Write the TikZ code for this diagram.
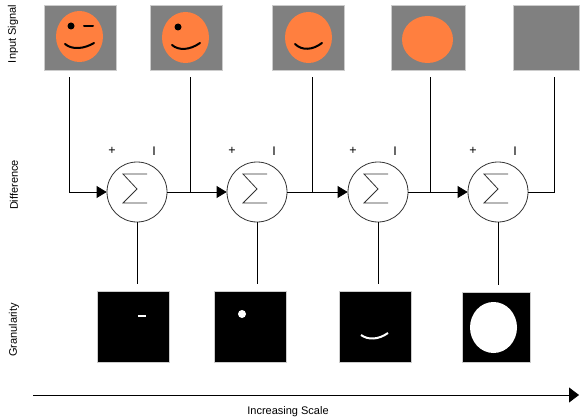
\documentclass[tikz,border=0pt]{standalone}
\usepackage{fontspec}
\setmainfont{Liberation Sans}
\usepackage{xcolor}
\usetikzlibrary{positioning, arrows.meta}

\definecolor{framegray}{RGB}{128,128,128}
\definecolor{skin}{RGB}{255,127,63}

\begin{document}
\begin{tikzpicture}[x=1pt, y=-1pt,
    inbox/.style={draw=gray!40, fill=framegray, minimum width=72pt, minimum height=65pt, inner sep=0pt},
    granbox/.style={draw=gray!40, fill=black, minimum width=72pt, minimum height=71pt, inner sep=0pt},
    sumnode/.style={circle, draw=black!80, line width=0.8pt, minimum size=60pt, inner sep=0pt},
    sigma/.style={draw=black!80, line width=0.8pt, line join=miter},
    sign/.style={font=\fontsize{12.5}{14}\selectfont, inner sep=0pt},
    rowlabel/.style={rotate=90, font=\fontsize{11}{13}\selectfont},
    wire/.style={line width=0.8pt},
    arr/.style={wire, -{Triangle[length=10pt, width=12pt]}},
    ink/.style={line width=2pt, line cap=round}
  ]
  \useasboundingbox (0,0) rectangle (581,420);

  % Row labels
  \node[rowlabel] (lblin) at (13,34) {Input Signal};
  \node[rowlabel] (lbldiff) at (14,185) {Difference};
  \node[rowlabel] (lblgran) at (14,330) {Granularity};

  % Input frames
  \node[inbox] (in1) at (80,37.5) {};
  \node[inbox] (in2) at (186,37.5) {};
  \node[inbox] (in3) at (308,37.5) {};
  \node[inbox, minimum width=74pt] (in4) at (428,37.5) {};
  \node[inbox, minimum width=66pt] (in5) at (546,37.5) {};

  % Faces
  \fill[skin] (79.5,36.5) ellipse [x radius=23.5, y radius=25.5];
  \fill (71,26) circle [radius=3.5];
  \draw[ink] (84,26) -- (93,26);
  \draw[ink] (65,44) .. controls (72,50) and (84,49) .. (94,43);

  \fill[skin] (185.5,37.5) ellipse [x radius=23.5, y radius=25.5];
  \fill (178,27) circle [radius=3.5];
  \draw[ink] (172,45) .. controls (179,51) and (190,50) .. (200,43);

  \fill[skin] (308.5,37.5) ellipse [x radius=23.5, y radius=25.5];
  \draw[ink] (295,44) .. controls (302,51) and (313,50) .. (322,43);

  \fill[skin] (427.5,39.5) ellipse [x radius=25.5, y radius=23.5];

  % Summing junctions
  \node[sumnode] (sum1) at (137,192) {};
  \node[sumnode] (sum2) at (257,192) {};
  \node[sumnode] (sum3) at (378,192) {};
  \node[sumnode] (sum4) at (498,192) {};

  \foreach \i in {1,...,4} {
    \draw[sigma] ([shift={(10,-18)}]sum\i.center) -- ([shift={(-14,-18)}]sum\i.center)
      -- ([shift={(0,-3)}]sum\i.center) -- ([shift={(-14,11)}]sum\i.center)
      -- ([shift={(10,11)}]sum\i.center);
    \node[sign] at ([shift={(-25,-41)}]sum\i.center) {+};
    \node[sign] at ([shift={(17,-41)}]sum\i.center) {I};
  }

  % Granularity frames
  \node[granbox] (g1) at (133,326.5) {};
  \node[granbox] (g2) at (250,326.5) {};
  \node[granbox] (g3) at (375,326.5) {};
  \node[granbox, minimum width=68pt, minimum height=70pt] (g4) at (496,327) {};

  \draw[white, line width=2pt] (138,316) -- (146,316);
  \fill[white] (242,314) circle [radius=4];
  \draw[white, line width=2pt] (361,335) .. controls (368,340) and (378,340) .. (388,333);
  \fill[white] (493.5,327.5) ellipse [x radius=23.5, y radius=25.5];

  % Junction points
  \coordinate (j1) at (69,192);
  \coordinate (j2) at (190,192);
  \coordinate (j3) at (312,192);
  \coordinate (j4) at (430,192);
  \coordinate (j5) at (554,192);

  % Edges
  \draw[wire] ([yshift=-7pt]in1.south -| j1) -- (j1);
  \draw[arr] (j1) -- (sum1.west);
  \foreach \i/\p in {2/1, 3/2, 4/3} {
    \draw[wire] ([yshift=-7pt]in\i.south -| j\i) -- (j\i);
    \draw[wire] (sum\p.east) -- (j\i);
    \draw[arr] (j\i) -- (sum\i.west);
  }
  \draw[wire] ([yshift=-7pt]in5.south -| j5) -- (j5) -- (sum4.east);

  \foreach \i in {1,...,4}
    \draw[wire] (sum\i.south) -- ([yshift=7pt]g\i.north -| sum\i.south);

  % Scale axis
  \coordinate (scale0) at (33,395);
  \coordinate (scale1) at (579,395);
  \draw[wire, -{Triangle[length=10pt, width=15pt]}] (scale0) -- (scale1);
  \node[font=\fontsize{11}{13}\selectfont] (scalelbl) at (288,412) {Increasing Scale};
\end{tikzpicture}
\end{document}
